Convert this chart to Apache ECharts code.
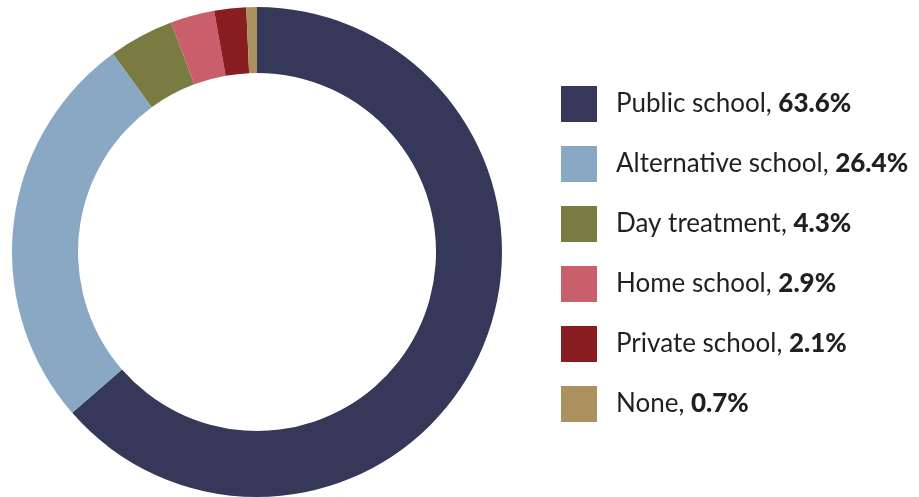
<!DOCTYPE html>
<html>
<head>
<meta charset="utf-8">
<script src="https://cdn.jsdelivr.net/npm/echarts@6/dist/echarts.min.js"></script>
<style>
html, body { margin: 0; padding: 0; background: #fff; }
#chart { width: 919px; height: 497px; }
</style>
</head>
<body>
<div id="chart"></div>
<script>
var categories = ['Public school', 'Alternative school', 'Day treatment', 'Home school', 'Private school', 'None'];
var shares = [63.6, 26.4, 4.3, 2.9, 2.1, 0.7];
var colors = ['#363859', '#88A8C4', '#7A7B42', '#C95F6B', '#881E21', '#AB915E'];

window.onload = function () {
	var chart = echarts.init(document.getElementById('chart'));

	var pieData = categories.map(function (name, i) {
		return { name: name, value: shares[i], itemStyle: { color: colors[i] } };
	});

	var option = {
		animation: false,
		legend: {
			orient: 'vertical',
			left: 556,
			top: 81,
			itemWidth: 36,
			itemHeight: 36,
			itemGap: 24,
			icon: 'rect',
			data: categories,
			formatter: function (name) {
				var i = categories.indexOf(name);
				return '{a|' + name + ', }{b|' + shares[i].toFixed(1) + '%}';
			},
			textStyle: {
				padding: [0, 0, 0, 14],
				rich: {
					a: { fontFamily: 'Lato', fontSize: 26, color: '#231F20' },
					b: { fontFamily: 'Lato', fontSize: 26, fontWeight: 900, color: '#231F20' }
				}
			}
		},
		series: [{
			type: 'pie',
			center: [257, 252],
			radius: [179, 245],
			startAngle: 90,
			clockwise: true,
			label: { show: false },
			labelLine: { show: false },
			emphasis: { disabled: true },
			data: pieData
		}]
	};
	chart.setOption(option);
};
</script>
</body>
</html>
